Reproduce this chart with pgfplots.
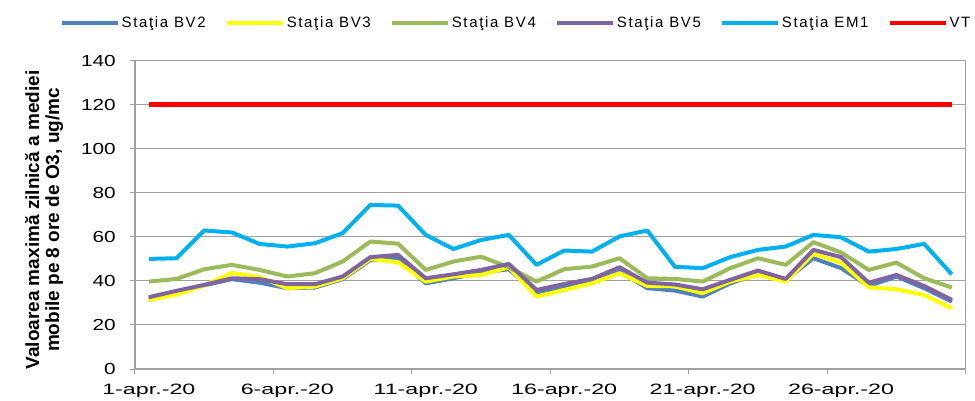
\documentclass[border=0pt]{standalone}
\usepackage{fontspec}
\setmainfont{Liberation Sans}
\newfontfamily\xtickfont{Liberation Sans}[FakeStretch=1.55]
\newfontfamily\ytickfont{Liberation Sans}[FakeStretch=1.3]
\newfontfamily\legfont{Liberation Sans}[LetterSpace=11]
\usepackage{pgfplots}
\usepackage{pgfplotstable}
\pgfplotsset{compat=1.18}
\definecolor{cBVtwo}{HTML}{4F81BD}
\definecolor{cBVthree}{HTML}{FFFF00}
\definecolor{cBVfour}{HTML}{9BBB59}
\definecolor{cBVfive}{HTML}{8064A2}
\definecolor{cEM}{HTML}{00B0F0}
\definecolor{cVT}{HTML}{FF0000}
\definecolor{gridgray}{HTML}{A0A0A0}
\pgfplotstableread{
x BV2 BV3 BV4 BV5 EM1 VT
0.5 32.0 31.3 39.7 32.6 50.0 120
1.5 35.0 33.8 40.9 35.5 50.3 120
2.5 38.0 38.0 45.3 38.2 62.9 120
3.5 40.8 43.6 47.3 41.2 62.0 120
4.5 39.2 41.8 45.0 40.8 56.8 120
5.5 36.7 36.7 42.0 38.5 55.6 120
6.5 37.0 37.4 43.5 38.5 57.1 120
7.5 40.8 41.2 48.8 42.0 61.7 120
8.5 49.5 50.0 57.9 50.8 74.5 120
9.5 50.5 48.5 56.9 51.8 74.2 120
10.5 38.9 39.7 45.0 41.2 60.9 120
11.5 41.2 42.0 48.8 43.0 54.5 120
12.5 43.8 42.7 51.0 45.0 58.6 120
13.5 45.3 46.2 46.2 47.7 60.9 120
14.5 34.7 32.9 39.7 35.9 47.3 120
15.5 37.4 35.9 45.3 38.6 53.8 120
16.5 39.2 38.9 46.5 40.9 53.3 120
17.5 44.2 43.5 50.3 46.2 60.2 120
18.5 36.7 37.7 41.2 39.2 62.9 120
19.5 35.6 37.6 40.9 38.4 46.4 120
20.5 32.9 34.4 39.7 36.2 45.8 120
21.5 38.9 39.7 45.8 40.5 50.8 120
22.5 43.2 42.7 50.3 44.7 54.1 120
23.5 40.5 39.7 47.3 40.9 55.6 120
24.5 50.3 52.3 57.6 54.1 60.9 120
25.5 45.8 48.3 52.9 50.8 59.8 120
26.5 37.7 37.1 45.0 39.2 53.3 120
27.5 42.0 36.2 48.3 42.7 54.5 120
28.5 36.7 33.6 41.2 37.7 56.8 120
29.5 30.6 27.6 37.0 31.4 43.0 120
}\datatable
\begin{document}
\begin{tikzpicture}
\begin{axis}[
  scale only axis,
  width=830.7bp, height=308.3bp,
  xmin=0, xmax=30, ymin=0, ymax=140,
  ytick={0,20,...,140},
  xtick={0,5,10,15,20,25,30},
  xticklabels={},
  extra x ticks={0.5,5.5,10.5,15.5,20.5,25.5},
  extra x tick labels={1-apr.-20,6-apr.-20,11-apr.-20,16-apr.-20,21-apr.-20,26-apr.-20},
  extra x tick style={major tick length=0pt, grid=none,
     xticklabel style={font=\xtickfont\fontsize{15bp}{18bp}\selectfont, anchor=north, inner sep=0pt, yshift=-15bp}},
  tick align=outside,
  major tick length=5bp,
  xtick pos=bottom, ytick pos=left,
  ymajorgrids,
  grid style={gridgray, line width=1bp},
  axis line style={gridgray, line width=1.2bp},
  every tick/.style={gridgray, line width=1bp},
  /pgf/number format/assume math mode=true,
  yticklabel style={font=\ytickfont\fontsize{16bp}{19bp}\selectfont, anchor=east, inner sep=0pt, xshift=-14bp},
  ylabel={Valoarea maximă zilnică a mediei\\mobile pe 8 ore de O3, ug/mc},
  ylabel style={font=\bfseries\fontsize{19bp}{20bp}\selectfont, align=center,
     at={(axis description cs:-0.1095,0.4833)}, anchor=center},
  legend columns=6,
  legend style={at={(axis description cs:-0.0903,1.1233)}, anchor=west, draw=none, fill=none,
     inner sep=0pt, font=\legfont\fontsize{15bp}{18bp}\selectfont,
     /tikz/every even column/.append style={column sep=18bp},
     nodes={inner sep=1.5bp}},
  legend image code/.code={\draw[#1, line width=4bp] (0bp,0bp) -- (56bp,0bp);},
  every axis plot/.append style={line width=4bp, line join=round, mark=none},
]
\addplot[cBVtwo] table[x=x,y=BV2]{\datatable};
\addlegendentry{Staţia BV2}
\addplot[cBVthree] table[x=x,y=BV3]{\datatable};
\addlegendentry{Staţia BV3}
\addplot[cBVfour] table[x=x,y=BV4]{\datatable};
\addlegendentry{Staţia BV4}
\addplot[cBVfive] table[x=x,y=BV5]{\datatable};
\addlegendentry{Staţia BV5}
\addplot[cEM] table[x=x,y=EM1]{\datatable};
\addlegendentry{Staţia EM1}
\addplot[cVT, line width=4.5bp] table[x=x,y=VT]{\datatable};
\addlegendentry{VT}
\end{axis}
\pgfresetboundingbox
\path[use as bounding box] (-135bp,-32bp) rectangle (840bp,369bp);
\end{tikzpicture}
\end{document}
